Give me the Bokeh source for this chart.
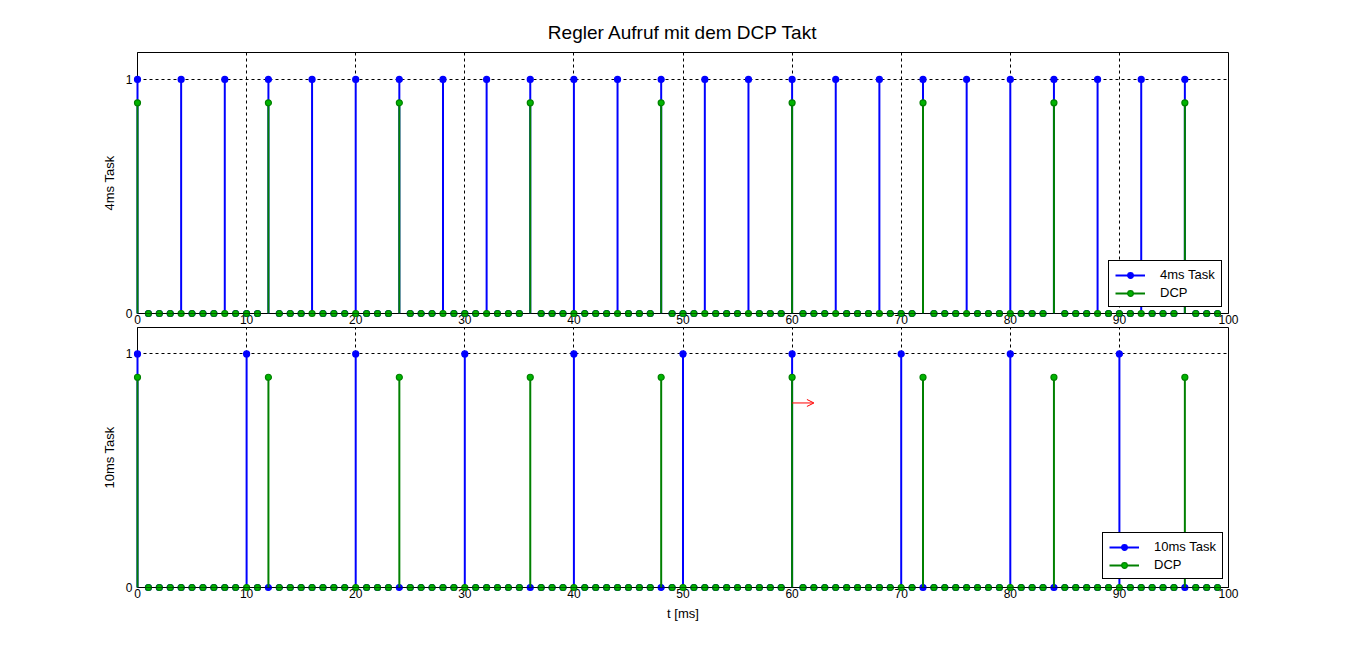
from bokeh.plotting import figure
from bokeh.layouts import column
from bokeh.models import (Range1d, FixedTicker, Legend, LegendItem, Span, Arrow,
                          OpenHead, ColumnDataSource)
from bokeh.embed import file_html
from bokeh.resources import INLINE

# ---------------- data ----------------
t_samples = list(range(100))                      # sample grid [ms]
task4_times = [0, 4, 8, 12, 16, 20, 24, 28, 32, 36, 40, 44, 48,
               52, 56, 60, 64, 68, 72, 76, 80, 84, 88, 92, 96]
task10_times = [0, 10, 20, 30, 40, 50, 60, 70, 80, 90]
dcp_times = [0, 12, 24, 36, 48, 60, 72, 84, 96]
task_level = 1.0
dcp_level = 0.9
x_ticks = [0, 10, 20, 30, 40, 50, 60, 70, 80, 90, 100]
y_ticks = [0, 1]
arrow_x = [60, 62]
arrow_y = [0.79, 0.79]

title_text = "Regler Aufruf mit dem DCP Takt"
top_ylabel = "4ms Task"
bot_ylabel = "10ms Task"
xlabel = "t [ms]"

FONT = "Liberation Sans"
BLUE = "#0000ff"
GREEN = "#008000"
GREEN_FILL = "#00b400"


def series(times, level):
    return [level if x in times else 0.0 for x in t_samples]


def make_fig(height, top, bottom, ylabel, ymax):
    p = figure(width=1366, height=height, x_range=Range1d(0, 100),
               y_range=Range1d(0, ymax), output_backend="svg",
               toolbar_location=None, min_border_left=137, min_border_right=138,
               min_border_top=top, min_border_bottom=bottom)
    p.outline_line_color = "black"
    p.outline_line_alpha = 1.0
    p.outline_line_width = 1
    p.background_fill_color = "white"
    p.border_fill_color = "white"
    for ax in (p.xaxis[0], p.yaxis[0]):
        ax.axis_line_color = "black"
        ax.major_tick_out = 0
        ax.major_tick_in = 0
        ax.minor_tick_line_color = None
        ax.major_label_text_font = FONT
        ax.major_label_text_font_size = "12px"
        ax.major_label_text_color = "black"
        ax.axis_label_text_font = FONT
        ax.axis_label_text_font_size = "13px"
        ax.axis_label_text_font_style = "normal"
        ax.axis_label_text_color = "black"
    p.xaxis.ticker = FixedTicker(ticks=x_ticks)
    p.yaxis.ticker = FixedTicker(ticks=y_ticks)
    p.xaxis.major_label_standoff = 1
    p.yaxis.major_label_standoff = 5
    p.yaxis.axis_label = ylabel
    p.yaxis.axis_label_standoff = 6
    p.xgrid.ticker = FixedTicker(ticks=x_ticks)
    p.ygrid.ticker = FixedTicker(ticks=y_ticks)
    for g in (p.xgrid[0], p.ygrid[0]):
        g.grid_line_color = "black"
        g.grid_line_alpha = 1.0
        g.grid_line_dash = "3 3"
        g.grid_line_width = 1
    p.add_layout(Span(location=0, dimension="width", line_color="black",
                      line_width=1))
    return p


def add_stems(p, times, level, color, fill, label_a):
    src = ColumnDataSource(dict(x=t_samples, y=series(times, level),
                                y0=[0.0] * len(t_samples)))
    seg = p.segment(x0="x", y0="y0", x1="x", y1="y", source=src,
                    line_color=color, line_width=2, level="annotation")
    pts = p.scatter(x="x", y="y", source=src, size=6, marker="circle",
                    fill_color=fill, line_color=color, line_width=1.2,
                    level="annotation")
    return LegendItem(label=label_a, renderers=[seg, pts])


def add_legend(p, items, loc, pad):
    lg = Legend(items=items, location=loc, glyph_width=30, glyph_height=14,
                label_height=14, spacing=3, padding=pad, margin=0,
                label_standoff=15, label_text_font=FONT,
                label_text_font_size="13px", label_text_color="black",
                border_line_color="black",
                border_line_width=1, border_line_alpha=1.0,
                background_fill_color="white", background_fill_alpha=1.0)
    p.add_layout(lg, "center")


# ---------------- top subplot ----------------
p1 = make_fig(327, 52, 14, top_ylabel, 1.115)
p1.title.text = title_text
p1.title.align = "center"
p1.title.text_font = FONT
p1.title.text_font_size = "19px"
p1.title.text_font_style = "normal"
p1.title.text_color = "black"
p1.title.standoff = 19
it1 = add_stems(p1, task4_times, task_level, BLUE, BLUE, "4ms Task")
it2 = add_stems(p1, dcp_times, dcp_level, GREEN, GREEN_FILL, "DCP")
add_legend(p1, [it1, it2], (971, 6), 6)

# ---------------- bottom subplot ----------------
p2 = make_fig(322, 0, 62, bot_ylabel, 1.113)
p2.xaxis.axis_label = xlabel
p2.xaxis.axis_label_standoff = 5
it3 = add_stems(p2, task10_times, task_level, BLUE, BLUE, "10ms Task")
it4 = add_stems(p2, dcp_times, dcp_level, GREEN, GREEN_FILL, "DCP")
add_legend(p2, [it3, it4], (965, 8), 6)
p2.add_layout(Arrow(end=OpenHead(size=7, line_color="red", line_width=1),
                    x_start=arrow_x[0], y_start=arrow_y[0],
                    x_end=arrow_x[1], y_end=arrow_y[1],
                    line_color="red", line_width=1))

layout = column(p1, p2, spacing=0)
open("out.html", "w").write(file_html(layout, INLINE))
